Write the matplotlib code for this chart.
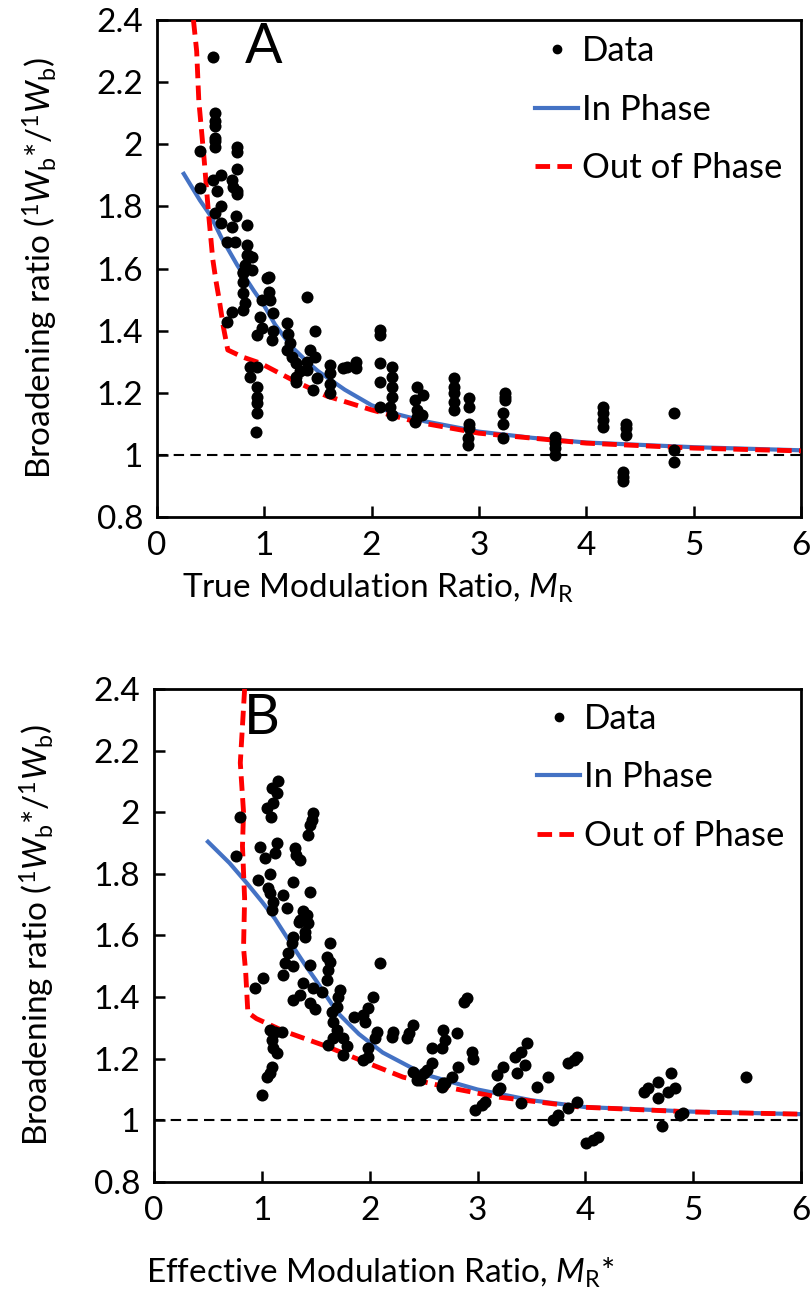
import matplotlib
matplotlib.use('agg')
import matplotlib.pyplot as plt
from matplotlib.lines import Line2D

plt.rcParams['font.family'] = ['Lato', 'DejaVu Sans']
plt.rcParams['mathtext.fontset'] = 'custom'
plt.rcParams['mathtext.rm'] = 'Lato'
plt.rcParams['mathtext.it'] = 'Lato:italic'

# panel A: true modulation ratio
a_x = [0.52, 0.54, 0.54, 0.54, 0.54, 0.54, 0.54, 0.40, 0.40,
       0.745, 0.745, 0.745, 0.745, 0.745, 0.52, 0.60, 0.56, 0.70, 0.71,
       0.60, 0.54, 0.60, 0.735, 0.84, 0.70, 0.65, 0.73, 0.84, 0.84, 0.885, 0.80, 0.885, 1.03,
       0.85, 0.82, 0.80, 0.80, 0.80, 0.82, 0.80, 0.70, 0.65,
       1.04, 1.04, 1.05, 0.98, 0.96, 0.93, 0.98, 1.08, 1.08, 1.07, 1.40,
       1.21, 1.22, 1.24, 1.21, 1.26, 1.30, 1.30, 1.30, 1.33,
       1.47, 1.43, 1.47, 1.40, 1.45, 1.49, 1.40, 1.61, 1.61, 1.61, 1.61,
       1.73, 1.77, 1.85, 1.85, 2.08, 2.08, 2.08, 2.08, 2.08,
       2.19, 2.19, 2.19, 2.19, 2.17, 2.19,
       0.87, 0.93, 0.87, 0.93, 0.93, 0.93, 0.93, 0.92,
       2.42, 2.40, 2.48, 2.42, 2.42, 2.47, 2.40,
       2.77, 2.77, 2.77, 2.77, 2.77, 2.91, 2.91, 2.91, 2.91, 2.90, 2.90,
       3.24, 3.24, 3.24, 3.22, 3.22, 3.22, 3.71, 3.71, 3.71, 3.71,
       4.16, 4.16, 4.16, 4.16, 4.37, 4.37, 4.37, 4.34, 4.34, 4.34,
       4.82, 4.82, 4.82]
a_y = [2.28, 2.10, 2.075, 2.06, 2.02, 2.01, 1.99, 1.98, 1.86,
       1.99, 1.975, 1.92, 1.85, 1.84, 1.885, 1.90, 1.85, 1.885, 1.863,
       1.80, 1.78, 1.747, 1.77, 1.74, 1.734, 1.686, 1.686, 1.676, 1.644, 1.637, 1.59, 1.595, 1.57,
       1.644, 1.61, 1.586, 1.557, 1.52, 1.49, 1.467, 1.46, 1.428,
       1.573, 1.525, 1.50, 1.50, 1.444, 1.386, 1.408, 1.457, 1.40, 1.37, 1.509,
       1.425, 1.39, 1.36, 1.338, 1.315, 1.296, 1.25, 1.235, 1.27,
       1.40, 1.338, 1.315, 1.273, 1.21, 1.248, 1.30, 1.29, 1.264, 1.23, 1.20,
       1.28, 1.283, 1.30, 1.28, 1.402, 1.386, 1.296, 1.235, 1.154,
       1.283, 1.25, 1.22, 1.186, 1.154, 1.128,
       1.283, 1.283, 1.25, 1.22, 1.186, 1.167, 1.135, 1.074,
       1.22, 1.177, 1.193, 1.145, 1.122, 1.128, 1.106,
       1.248, 1.22, 1.20, 1.17, 1.145, 1.183, 1.154, 1.10, 1.087, 1.054, 1.032,
       1.20, 1.186, 1.177, 1.135, 1.10, 1.054, 1.058, 1.04, 1.022, 1.0,
       1.154, 1.135, 1.112, 1.09, 1.10, 1.087, 1.064, 0.945, 0.93, 0.915,
       1.135, 1.015, 0.977]

a_in_x = [0.25, 0.4, 0.5, 0.6, 0.75, 0.9, 1.0, 1.1, 1.25, 1.4, 1.5, 1.75, 2.0, 2.25, 2.5, 3.0, 3.5, 4.0, 5.0, 6.0]
a_in_y = [1.905, 1.82, 1.77, 1.70, 1.61, 1.53, 1.48, 1.42, 1.35, 1.30, 1.27, 1.21, 1.16, 1.13, 1.108, 1.075, 1.055, 1.04, 1.025, 1.015]
a_out_x = [0.34, 0.37, 0.39, 0.44, 0.48, 0.52, 0.55, 0.58, 0.62, 0.66, 0.8, 0.96, 1.27, 1.58, 2.0, 2.42, 3.0, 4.0, 5.0, 6.0]
a_out_y = [2.40, 2.30, 2.14, 1.95, 1.78, 1.63, 1.56, 1.50, 1.41, 1.338, 1.315, 1.296, 1.24, 1.19, 1.145, 1.106, 1.07, 1.038, 1.022, 1.013]

# panel B: effective modulation ratio
b_x = [0.80, 0.76, 1.15, 1.09, 1.14, 1.10, 1.05, 1.085, 1.475, 1.465, 1.45, 1.43,
       0.98, 1.03, 1.14, 1.12, 1.31, 1.355, 1.32,
       0.965, 1.075, 1.06, 1.075, 1.20, 1.29, 1.45, 1.10, 1.095, 1.23, 1.38, 1.355, 1.43, 1.40, 1.29, 1.28, 1.63, 1.24,
       1.42, 1.34, 1.40, 2.10, 1.60, 1.63, 1.61, 1.45, 1.215, 1.29,
       1.01, 0.94, 1.20, 1.38, 1.475, 1.56, 1.60, 1.29, 1.355, 1.45, 1.49,
       1.725, 1.71, 1.70, 1.65, 1.66, 1.70, 1.66, 1.61, 1.755, 1.79, 1.755,
       1.85, 1.94, 1.985, 2.03, 1.96, 1.98, 1.98, 1.94,
       2.07, 2.05, 2.22, 2.21, 2.40, 2.36, 2.35, 2.58, 2.68, 2.67, 2.70,
       2.40, 2.50, 2.47, 2.58, 2.53, 2.70, 2.67,
       1.075, 1.12, 1.19, 1.095, 1.10, 1.14, 1.095, 1.075, 1.05, 1.00,
       2.87, 2.90, 2.81, 2.82, 2.76, 2.68, 2.44, 2.95, 2.96, 2.98, 3.04, 3.07,
       3.18, 3.24, 3.19, 3.21, 3.35, 3.40, 3.46, 3.37, 3.44, 3.40, 3.55, 3.65,
       3.70, 3.75, 3.84, 3.92, 3.84, 3.89, 3.92, 4.01, 4.07, 4.12,
       4.54, 4.58, 4.67, 4.79, 4.67, 4.77, 4.83, 4.71, 4.88, 4.91, 5.49]
b_y = [1.985, 1.858, 2.10, 2.08, 2.063, 2.03, 2.014, 1.985, 1.998, 1.975, 1.96, 1.927,
       1.888, 1.852, 1.90, 1.868, 1.884, 1.845, 1.86,
       1.78, 1.80, 1.755, 1.738, 1.732, 1.774, 1.74, 1.71, 1.683, 1.69, 1.68, 1.65, 1.64, 1.596, 1.596, 1.576, 1.576, 1.543,
       1.667, 1.645, 1.61, 1.51, 1.53, 1.514, 1.488, 1.505, 1.51, 1.50,
       1.462, 1.43, 1.472, 1.446, 1.43, 1.417, 1.456, 1.39, 1.407, 1.38, 1.36,
       1.423, 1.40, 1.368, 1.35, 1.32, 1.293, 1.268, 1.245, 1.268, 1.24, 1.212,
       1.335, 1.342, 1.365, 1.40, 1.32, 1.235, 1.206, 1.196,
       1.287, 1.268, 1.287, 1.27, 1.31, 1.284, 1.268, 1.235, 1.293, 1.235, 1.261,
       1.157, 1.154, 1.13, 1.186, 1.164, 1.12, 1.108,
       1.293, 1.287, 1.287, 1.261, 1.235, 1.219, 1.173, 1.154, 1.141, 1.082,
       1.385, 1.397, 1.284, 1.173, 1.14, 1.12, 1.13, 1.222, 1.20, 1.034, 1.05, 1.06,
       1.147, 1.173, 1.10, 1.105, 1.206, 1.222, 1.25, 1.154, 1.18, 1.056, 1.108, 1.14,
       1.0, 1.018, 1.04, 1.06, 1.186, 1.196, 1.206, 0.927, 0.936, 0.946,
       1.092, 1.105, 1.125, 1.154, 1.073, 1.092, 1.105, 0.98, 1.018, 1.024, 1.141]

b_in_x = [0.5, 0.7, 0.86, 1.0, 1.12, 1.23, 1.4, 1.5, 1.7, 1.9, 2.12, 2.5, 3.0, 3.5, 4.0, 5.0, 6.0]
b_in_y = [1.904, 1.835, 1.77, 1.71, 1.655, 1.595, 1.505, 1.455, 1.35, 1.28, 1.22, 1.15, 1.10, 1.065, 1.043, 1.028, 1.02]
b_out_x = [0.84, 0.80, 0.83, 0.82, 0.84, 0.83, 0.85, 0.87, 0.95, 1.2, 1.6, 1.88, 2.31, 2.75, 3.18, 3.95, 5.0, 6.0]
b_out_y = [2.40, 2.16, 2.0, 1.89, 1.72, 1.56, 1.48, 1.35, 1.33, 1.29, 1.24, 1.20, 1.14, 1.105, 1.076, 1.043, 1.027, 1.02]

BLUE = '#4472C4'
RED = '#FF0000'

fig = plt.figure(figsize=(8.12, 13.14), dpi=100)
ax1 = fig.add_axes([0.1933, 0.6065, 0.793, 0.3782])
ax2 = fig.add_axes([0.1897, 0.1005, 0.7968, 0.3752])

panels = [
    (ax1, a_x, a_y, a_in_x, a_in_y, a_out_x, a_out_y, 'A',
     r'True Modulation Ratio, $M_{\mathrm{R}}$', (0.343, -0.11), (0.587, 0.970), (0.165, 0.944)),
    (ax2, b_x, b_y, b_in_x, b_in_y, b_out_x, b_out_y, 'B',
     r'Effective Modulation Ratio, $M_{\mathrm{R}}$*', (0.349, -0.15), (0.592, 0.972), (0.167, 0.941)),
]

for ax, dx, dy, ix, iy, ox, oy, letter, xlab, xlab_pos, leg_pos, let_pos in panels:
    ax.axhline(1.0, color='black', lw=1.5, ls=(0, (5, 3)), zorder=1)
    ax.plot(ix, iy, color=BLUE, lw=3, zorder=2)
    ax.plot(ox, oy, color=RED, lw=3.5, ls=(0, (3, 1.5)), zorder=3)
    ax.scatter(dx, dy, s=75, color='black', zorder=4, linewidths=0)

    ax.set_xlim(0, 6)
    ax.set_ylim(0.8, 2.4)
    ax.set_xticks([0, 1, 2, 3, 4, 5, 6])
    ax.set_yticks([0.8, 1, 1.2, 1.4, 1.6, 1.8, 2, 2.2, 2.4])
    ax.set_yticklabels(['0.8', '1', '1.2', '1.4', '1.6', '1.8', '2', '2.2', '2.4'])
    ax.tick_params(direction='in', length=8, width=1.8, labelsize=24, pad=10)
    for sp in ax.spines.values():
        sp.set_linewidth(2)

    ax.set_xlabel(xlab, fontsize=24)
    ax.xaxis.set_label_coords(*xlab_pos)
    ax.set_ylabel(r'Broadening ratio ($^{1}W_{\mathrm{b}}$*/$^{1}W_{\mathrm{b}}$)', fontsize=24)
    ax.yaxis.set_label_coords(-0.15, 0.5)

    ax.text(let_pos[0], let_pos[1], letter, transform=ax.transAxes,
            ha='center', va='center', fontsize=40)

    handles = [
        Line2D([], [], marker='o', ls='none', color='black', markersize=6),
        Line2D([], [], color=BLUE, lw=3),
        Line2D([], [], color=RED, lw=3.5, ls=(0, (3, 1.5))),
    ]
    ax.legend(handles, ['Data', 'In Phase', 'Out of Phase'], loc='upper left',
              bbox_to_anchor=leg_pos, frameon=False, fontsize=25,
              handlelength=1.25, handletextpad=0.1, labelspacing=0.77,
              borderaxespad=0, borderpad=0)

fig.savefig('out.png', dpi=100)
